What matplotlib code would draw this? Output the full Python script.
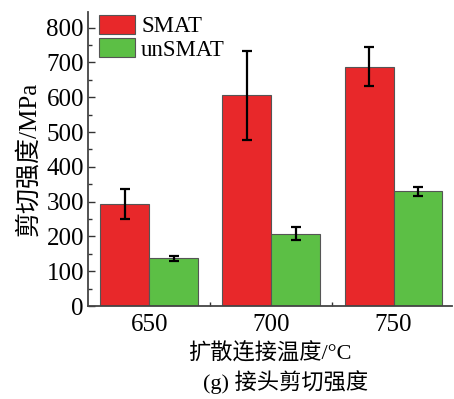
import matplotlib
matplotlib.use('Agg')
import matplotlib.pyplot as plt
import numpy as np
from matplotlib.ticker import MultipleLocator

plt.rcParams['font.family'] = ['Liberation Serif', 'Noto Sans CJK SC']

temps = ['650', '700', '750']
smat = [292, 605, 688]
smat_err = [43, 127, 57]
unsmat = [137, 208, 330]
unsmat_err = [8, 19, 13]

fig = plt.figure(figsize=(4.54, 3.99), dpi=100)
ax = fig.add_axes([0.194, 0.233, 0.802, 0.737])

x = np.arange(len(temps))
w = 0.4
ax.bar(x - w / 2, smat, w, color='#e8282a', edgecolor='#555555', linewidth=0.8,
       label='SMAT', zorder=2)
ax.bar(x + w / 2, unsmat, w, color='#5cbf45', edgecolor='#555555', linewidth=0.8,
       label='unSMAT', zorder=2)
ax.errorbar(x - w / 2, smat, yerr=smat_err, fmt='none', ecolor='black',
            elinewidth=1.6, capsize=3.5, capthick=1.6, zorder=3)
ax.errorbar(x + w / 2, unsmat, yerr=unsmat_err, fmt='none', ecolor='black',
            elinewidth=1.6, capsize=3.5, capthick=1.6, zorder=3)

ax.set_xlim(-0.5, 2.48)
ax.set_ylim(0, 845)
ax.set_xticks(x)
ax.set_xticklabels(temps)
ax.set_xticks([0.5, 1.5], minor=True)
ax.yaxis.set_major_locator(MultipleLocator(100))
ax.yaxis.set_minor_locator(MultipleLocator(50))
ax.tick_params(axis='both', which='major', direction='in', length=5, width=1,
               labelsize=18, colors='#333333', labelcolor='black')
ax.tick_params(axis='both', which='minor', direction='in', length=3, width=1,
               colors='#333333')
ax.tick_params(axis='x', which='major', length=0, pad=6)
ax.tick_params(axis='y', which='major', pad=3)

for s in ['top', 'right']:
    ax.spines[s].set_visible(False)
for s in ['left', 'bottom']:
    ax.spines[s].set_linewidth(1.3)
    ax.spines[s].set_color('#444444')

ax.set_ylabel('剪切强度/MPa', fontsize=18, labelpad=4)
ax.set_xlabel('扩散连接温度/°C', fontsize=16, labelpad=5)
fig.text(0.628, 0.043, '(g) 接头剪切强度', fontsize=16, ha='center', va='center')

ax.legend(loc='upper left', bbox_to_anchor=(-0.015, 1.045), frameon=False,
          fontsize=16.5, handlelength=1.6, handleheight=0.9, labelspacing=0.05,
          handletextpad=0.25, borderaxespad=0.3)

fig.savefig('out.png', dpi=100)
